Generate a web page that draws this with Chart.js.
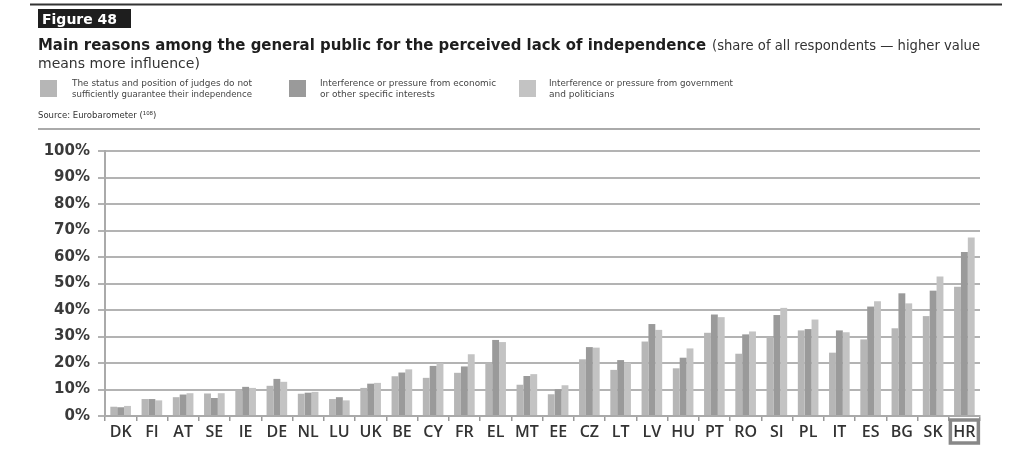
<!DOCTYPE html>
<html>
<head>
<meta charset="utf-8">
<script src="https://cdn.jsdelivr.net/npm/chart.js@4.4.1/dist/chart.umd.min.js"></script>
<style>
  html, body { margin:0; padding:0; background:#fff; }
  #wrap { position:relative; width:1017px; height:460px; }
</style>
</head>
<body>
<div id="wrap"><canvas id="chart" width="1017" height="460"></canvas></div>
<script>
// chart data
const countries = ["DK","FI","AT","SE","IE","DE","NL","LU","UK","BE","CY","FR","EL","MT","EE","CZ","LT","LV","HU","PT","RO","SI","PL","IT","ES","BG","SK","HR"];
const statusJudges = [3.5,6.4,7.1,8.5,9.9,11.4,8.4,6.4,10.6,15.0,14.4,16.3,20.1,11.8,8.2,21.4,17.4,28.1,18.0,31.4,23.5,29.8,32.3,23.9,28.9,33.1,37.7,48.8];
const economicPressure = [3.3,6.4,8.1,6.8,11.0,14.0,8.8,7.1,12.2,16.4,18.9,18.7,28.7,15.1,10.1,26.0,21.1,34.7,22.0,38.3,30.8,38.1,32.8,32.3,41.3,46.3,47.3,61.9];
const govPressure = [3.8,5.9,8.6,8.6,10.6,12.9,9.1,5.9,12.5,17.6,19.9,23.3,27.9,15.8,11.6,25.8,20.1,32.5,25.5,37.3,31.9,40.8,36.4,31.6,43.3,42.5,52.6,67.4];
const seriesNames = [
  ["The status and position of judges do not", "sufficiently guarantee their independence"],
  ["Interference or pressure from economic", "or other specific interests"],
  ["Interference or pressure from government", "and politicians"]
];
const barColors = ["#b6b6b6", "#9a9a9a", "#c3c3c3"];
const highlight = "HR";

// header + highlight box drawn on the same canvas
const headerPlugin = {
  id: "header",
  afterDraw(chart){
    const ctx = chart.ctx;
    ctx.save();
    // top rule
    ctx.strokeStyle = "#333"; ctx.lineWidth = 2;
    ctx.beginPath(); ctx.moveTo(30, 4.5); ctx.lineTo(1002, 4.5); ctx.stroke();
    // figure tag
    ctx.fillStyle = "#1e1e1e"; ctx.fillRect(38, 9, 93, 19);
    ctx.fillStyle = "#fff"; ctx.font = "bold 14px 'DejaVu Sans'"; ctx.textBaseline = "alphabetic";
    ctx.fillText("Figure 48", 42, 24, 86);
    // title
    ctx.fillStyle = "#1e1e1e";
    ctx.font = "bold 15px 'DejaVu Sans'";
    ctx.fillText("Main reasons among the general public for the perceived lack of independence", 38, 50, 668);
    ctx.font = "14px 'DejaVu Sans'";
    ctx.fillStyle = "#333";
    ctx.fillText("(share of all respondents \u2014 higher value", 712, 50, 268);
    ctx.fillText("means more influence)", 38, 68, 182);
    // legend
    const sw = [40, 289, 519], tx = [72, 320, 549];
    const lw = [180, 176, 184];
    ctx.font = "9px 'DejaVu Sans'";
    for(let i=0;i<3;i++){
      ctx.fillStyle = barColors[i];
      ctx.fillRect(sw[i], 80, 17, 17);
      ctx.fillStyle = "#444";
      ctx.fillText(seriesNames[i][0], tx[i], 86, lw[i]);
      ctx.fillText(seriesNames[i][1], tx[i], 96.5, lw[i]);
    }
    ctx.font = "8.5px 'DejaVu Sans'"; ctx.fillStyle = "#333";
    ctx.fillText("Source: Eurobarometer (\u00B9\u2070\u2078)", 38, 118, 120);
    // separator
    ctx.strokeStyle = "#aaa"; ctx.lineWidth = 2;
    ctx.beginPath(); ctx.moveTo(38, 129); ctx.lineTo(980, 129); ctx.stroke();
    // box around highlighted label
    const xs = chart.scales.x;
    const hx = xs.getPixelForValue(countries.indexOf(highlight));
    ctx.strokeStyle = "#888"; ctx.lineWidth = 3.5;
    ctx.strokeRect(hx - 14, 420, 28, 23);
    ctx.restore();
  }
};

new Chart(document.getElementById("chart"), {
  type: "bar",
  data: {
    labels: countries,
    datasets: [
      { label: seriesNames[0].join(" "), data: statusJudges, backgroundColor: barColors[0] },
      { label: seriesNames[1].join(" "), data: economicPressure, backgroundColor: barColors[1] },
      { label: seriesNames[2].join(" "), data: govPressure, backgroundColor: barColors[2] }
    ]
  },
  options: {
    responsive: false,
    animation: false,
    layout: { padding: { top: 151, right: 37, left: 0, bottom: 0 } },
    datasets: { bar: { categoryPercentage: 0.66, barPercentage: 1.0 } },
    plugins: { legend: { display: false }, tooltip: { enabled: false } },
    scales: {
      x: {
        afterFit: s => { s.height = 44; },
        grid: { drawOnChartArea: false, drawTicks: true, tickLength: 5, color: "#999", lineWidth: 1.5 },
        border: { color: "#aaa", width: 2 },
        ticks: { color: "#333", font: { family: "'Open Sans'", size: 16, weight: "600" }, padding: 2, maxRotation: 0, autoSkip: false }
      },
      y: {
        min: 0, max: 100,
        afterFit: s => { s.width = 105; },
        grid: { color: "#b3b3b3", lineWidth: 2, tickLength: 7 },
        border: { color: "#aaa", width: 2 },
        ticks: { stepSize: 10, padding: 8, color: "#3a3a3a", font: { family: "'DejaVu Sans'", size: 15, weight: "bold" }, callback: v => v + "%" }
      }
    }
  },
  plugins: [headerPlugin]
});
</script>
</body>
</html>
